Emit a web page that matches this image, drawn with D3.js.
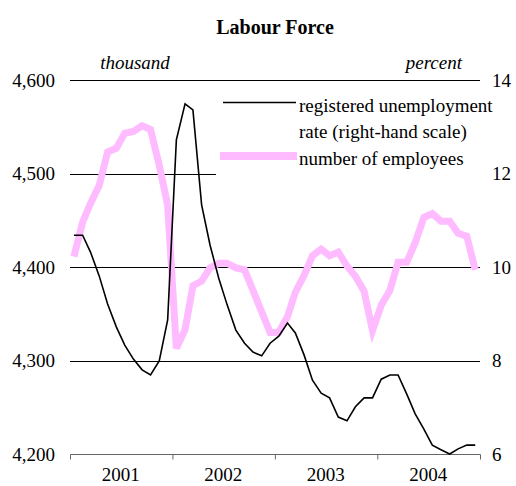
<!DOCTYPE html>
<html>
<head>
<meta charset="utf-8">
<script src="https://cdn.jsdelivr.net/npm/d3@7"></script>
<style>
  body { margin: 0; background: #fff; }
  text { font-family: "Liberation Serif", "Times New Roman", serif; fill: #000; }
</style>
</head>
<body>
<svg id="chart"></svg>
<script>
// monthly data, Jan 2001 .. Dec 2004
const years = [2001, 2002, 2003, 2004]
const leftTicks = [4200, 4300, 4400, 4500, 4600]
const rightTicks = [6, 8, 10, 12, 14]

// number of employees (thousand, left scale)
const employees = [
  4411, 4448, 4468, 4487, 4523, 4527, 4543, 4545, 4551, 4547, 4509, 4466,
  4313, 4333, 4380, 4385, 4399, 4404, 4404, 4399, 4397, 4375, 4352, 4330,
  4330, 4347, 4373, 4391, 4412, 4419, 4412, 4416, 4401, 4390, 4374, 4332,
  4359, 4375, 4405, 4405, 4426, 4453, 4457, 4449, 4449, 4436, 4433, 4397
]

// registered unemployment rate (percent, right scale)
const unemployment = [
  10.68, 10.68, 10.32, 9.81, 9.21, 8.72, 8.33, 8.03, 7.80, 7.69, 7.99, 8.87,
  12.72, 13.49, 13.36, 11.33, 10.47, 9.76, 9.19, 8.65, 8.37, 8.18, 8.10, 8.37,
  8.52, 8.80, 8.59, 8.12, 7.58, 7.30, 7.20, 6.79, 6.71, 7.01, 7.20, 7.20,
  7.60, 7.69, 7.69, 7.28, 6.86, 6.53, 6.19, 6.09, 6.00, 6.11, 6.19, 6.19
]

const colors = {
  employees: '#ffbbff',
  unemployment: '#000',
  axis: '#666'
}

const width = 516, height = 486
const svg = d3.select('#chart').attr('width', width).attr('height', height)

const x = d3.scaleTime()
  .domain([new Date(2001, 0, 1), new Date(2005, 0, 1)])
  .range([70, 480])
const yL = d3.scaleLinear().domain([4200, 4600]).range([454, 80])
const yR = d3.scaleLinear().domain([6, 14]).range([454, 80])

// month midpoints
const dates = employees.map((d, i) => new Date(2001, i, 15))

// title
svg.append('text')
  .attr('x', 275).attr('y', 34)
  .attr('text-anchor', 'middle')
  .attr('font-size', '20px').attr('font-weight', 'bold')
  .text('Labour Force')

svg.append('text')
  .attr('x', 135).attr('y', 69)
  .attr('text-anchor', 'middle')
  .attr('font-size', '19px').attr('font-style', 'italic')
  .text('thousand')

svg.append('text')
  .attr('x', 462).attr('y', 69)
  .attr('text-anchor', 'end')
  .attr('font-size', '19px').attr('font-style', 'italic')
  .text('percent')

// gridlines (not the bottom one, that is the x axis)
svg.append('g')
  .selectAll('line')
  .data(leftTicks.slice(1))
  .enter()
  .append('line')
  .attr('x1', 70).attr('x2', 480)
  .attr('y1', d => Math.round(yL(d)) + 0.5)
  .attr('y2', d => Math.round(yL(d)) + 0.5)
  .attr('stroke', '#000').attr('stroke-width', 1)

// left labels
svg.append('g')
  .selectAll('text')
  .data(leftTicks)
  .enter()
  .append('text')
  .attr('x', 55).attr('y', d => yL(d))
  .attr('dy', '0.35em')
  .attr('text-anchor', 'end')
  .attr('font-size', '19px')
  .text(d => d3.format(',')(d))

// right labels
svg.append('g')
  .selectAll('text')
  .data(rightTicks)
  .enter()
  .append('text')
  .attr('x', 492).attr('y', d => yR(d))
  .attr('dy', '0.35em')
  .attr('font-size', '19px')
  .text(d => d)

// x axis
const xAxis = svg.append('g')
  .attr('transform', 'translate(0,454.5)')
  .call(d3.axisBottom(x)
    .tickValues(d3.range(2001, 2006).map(y => new Date(y, 0, 1)))
    .tickSize(5)
    .tickFormat(''))
xAxis.select('.domain').attr('stroke', colors.axis).attr('d', 'M70.5,0H480.5')
xAxis.selectAll('.tick line').attr('stroke', colors.axis)

svg.append('g')
  .selectAll('text')
  .data(years)
  .enter()
  .append('text')
  .attr('x', d => x(new Date(d, 6, 1)))
  .attr('y', 481)
  .attr('text-anchor', 'middle')
  .attr('font-size', '19px')
  .text(d => d)

// legend box covers the gridline
svg.append('rect')
  .attr('x', 216).attr('y', 88)
  .attr('width', 266).attr('height', 95)
  .attr('fill', '#fff')

// series
const lineEmp = d3.line().x((d, i) => x(dates[i])).y(d => yL(d))
const lineUnemp = d3.line().x((d, i) => x(dates[i])).y(d => yR(d))

svg.append('path')
  .datum(employees)
  .attr('d', lineEmp)
  .attr('fill', 'none')
  .attr('stroke', colors.employees)
  .attr('stroke-width', 7)
  .attr('stroke-linejoin', 'miter')

svg.append('path')
  .datum(unemployment)
  .attr('d', lineUnemp)
  .attr('fill', 'none')
  .attr('stroke', colors.unemployment)
  .attr('stroke-width', 1.6)

// legend
const legend = svg.append('g')
legend.append('line')
  .attr('x1', 223).attr('x2', 296)
  .attr('y1', 102.5).attr('y2', 102.5)
  .attr('stroke', colors.unemployment).attr('stroke-width', 1.6)
legend.append('text')
  .attr('x', 299).attr('y', 112)
  .attr('font-size', '19px')
  .text('registered unemployment')
legend.append('text')
  .attr('x', 299).attr('y', 138)
  .attr('font-size', '19px')
  .text('rate (right-hand scale)')
legend.append('line')
  .attr('x1', 220).attr('x2', 297)
  .attr('y1', 156).attr('y2', 156)
  .attr('stroke', colors.employees).attr('stroke-width', 8)
legend.append('text')
  .attr('x', 299).attr('y', 165)
  .attr('font-size', '19px')
  .text('number of employees')
</script>
</body>
</html>
